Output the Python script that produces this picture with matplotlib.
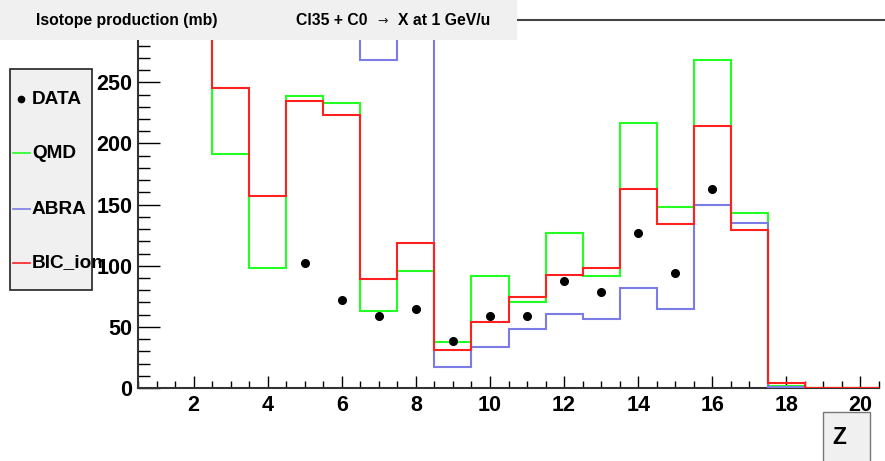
import numpy as np
import matplotlib
matplotlib.use("Agg")
import matplotlib.pyplot as plt
from matplotlib.ticker import MultipleLocator
from matplotlib.patches import Rectangle
from matplotlib.lines import Line2D

# bin edges for Z = 2 .. 20 (bins of width 1 centred on Z)
z_edges = np.arange(1.5, 21.5, 1.0)

# model predictions per Z (2..20), first bins run off the top of the frame
qmd = [320, 191, 98, 239, 233, 62.6, 96, 37.7, 91.5, 70, 127, 91.5, 216.7, 147.8, 268, 143.4, 2, 0, 0]
abra = [900, 700, 520, 420, 330, 268, 450, 17.5, 33.6, 48.6, 60.4, 56.3, 82, 64.8, 150, 135, 0.5, 0, 0]
bic_ion = [350, 245.6, 157, 235, 223, 89, 119, 31, 53.8, 74.3, 92.6, 98, 162.8, 134, 214.5, 129.5, 3.8, 0, 0]

# measured data
z_data = [5, 6, 7, 8, 9, 10, 11, 12, 13, 14, 15, 16]
data = [102.5, 72, 59, 65, 38.8, 58.5, 58.5, 87.4, 78.7, 127, 93.7, 162.8]

W, H = 885, 461
font = 'Liberation Sans'


def fx(px):
    return px / W


def fy(py):
    return 1 - py / H


def main():
    fig = plt.figure(figsize=(W / 100, H / 100), dpi=100)
    ax = fig.add_axes([fx(138), fy(388), fx(879) - fx(138), fy(20) - fy(388)])

    ax.stairs(qmd, z_edges, baseline=None, color='#22ff22', lw=1.5, zorder=3)
    ax.stairs(abra, z_edges, baseline=None, color='#7c7ce6', lw=1.5, zorder=3)
    ax.stairs(bic_ion, z_edges, baseline=None, color='#ff2020', lw=1.5, zorder=3)
    ax.plot(z_data, data, 'o', color='black', ms=5.5, zorder=5)

    ax.set_xlim(0.5, 20.5)
    ax.set_ylim(0, 301)

    for s in ['top', 'right']:
        ax.spines[s].set_visible(False)
    for s in ['left', 'bottom']:
        ax.spines[s].set_color('#333333')
        ax.spines[s].set_linewidth(1.5)

    ax.xaxis.set_major_locator(MultipleLocator(2))
    ax.xaxis.set_minor_locator(MultipleLocator(0.5))
    ax.set_yticks(np.arange(0, 251, 50))
    ax.yaxis.set_minor_locator(MultipleLocator(10))
    ax.tick_params(axis='x', which='major', direction='in', length=8.6, width=1, pad=5)
    ax.tick_params(axis='x', which='minor', direction='in', length=5, width=1)
    ax.tick_params(axis='y', which='major', direction='in', length=16, width=1, pad=4)
    ax.tick_params(axis='y', which='minor', direction='in', length=8.5, width=1)
    for lab in ax.get_xticklabels() + ax.get_yticklabels():
        lab.set_fontfamily(font)
        lab.set_fontweight('bold')
        lab.set_fontsize(15.5)

    # horizontal line across the top of the canvas
    fig.add_artist(Line2D([0, 1], [fy(20), fy(20)], color='#444444', lw=1.5, zorder=8))

    # title pave
    fig.add_artist(Rectangle((0, fy(40)), fx(517), 40 / H, facecolor='#f0f0f0',
                             edgecolor='none', zorder=10))
    fig.text(fx(36), fy(25), 'Isotope production (mb)', family=font, weight='bold',
             fontsize=11.3, va='baseline', zorder=11)
    fig.text(fx(296), fy(25), 'Cl35 + C0', family=font, weight='bold',
             fontsize=11.3, va='baseline', zorder=11)
    fig.text(fx(377), fy(25), '\u2192', family='DejaVu Sans', fontsize=9,
             va='baseline', color='#222222', zorder=11)
    fig.text(fx(398), fy(25), 'X at 1 GeV/u', family=font, weight='bold',
             fontsize=11.3, va='baseline', zorder=11)

    # legend box
    fig.add_artist(Rectangle((fx(10), fy(290)), fx(82), 221 / H, facecolor='#f0f0f0',
                             edgecolor='#222222', lw=1.2, zorder=10))
    entries = [('DATA', None), ('QMD', '#22ff22'), ('ABRA', '#7c7ce6'), ('BIC_ion', '#ff2020')]
    ys = [99, 153, 209, 263]
    for (name, col), yy in zip(entries, ys):
        if col is None:
            fig.add_artist(Line2D([fx(21)], [fy(yy)], marker='o', ms=4.5, color='black',
                                  lw=0, zorder=11))
        else:
            fig.add_artist(Line2D([fx(13), fx(30)], [fy(yy), fy(yy)], color=col, lw=1.2,
                                  zorder=11))
        fig.text(fx(32), fy(yy), name, family=font, weight='bold', fontsize=13.7,
                 va='center', zorder=11)

    # axis title pave
    fig.add_artist(Rectangle((fx(823), fy(470)), fx(47), 58 / H, facecolor='#f0f0f0',
                             edgecolor='#777777', lw=1, zorder=10))
    fig.text(fx(839), fy(437), 'Z', family=font, weight='bold', fontsize=16.5,
             ha='center', va='center', zorder=11)

    fig.savefig('out.png', dpi=100)


if __name__ == '__main__':
    main()
